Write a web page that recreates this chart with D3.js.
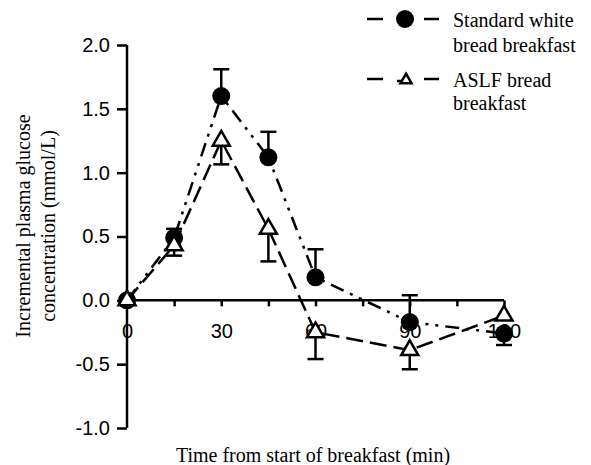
<!DOCTYPE html>
<html><head><meta charset="utf-8">
<script src="https://cdn.jsdelivr.net/npm/d3@7"></script>
<style>body{margin:0;background:#fff}svg{display:block}</style>
</head><body>
<svg id="c" width="591" height="465"></svg>
<script>
const times = [0, 15, 30, 45, 60, 90, 120];
const whiteMean = [0, 0.49, 1.60, 1.12, 0.18, -0.17, -0.26];
const whiteErrEnd = [null, 0.56, 1.81, 1.32, 0.40, 0.04, -0.35];
const aslfMean = [0, 0.43, 1.25, 0.56, -0.25, -0.39, -0.12];
const aslfErrEnd = [null, 0.35, 1.065, 0.305, -0.46, -0.54, null];
const yTicks = [-1.0, -0.5, 0.0, 0.5, 1.0, 1.5, 2.0];
const xTicks = [0, 15, 30, 45, 60, 75, 90, 105, 120];
const xTickLabels = [0, 30, 60, 90, 120];
const legendLabels = [["Standard white", "bread breakfast"], ["ASLF bread", "breakfast"]];

const svg = d3.select("#c");
const x = d3.scaleLinear().domain([0, 120]).range([127, 504]);
const y = d3.scaleLinear().domain([-1, 2]).range([428, 45]);
const serif = "'Liberation Serif','Times New Roman',serif";
const sans = "'Liberation Sans',Arial,sans-serif";
const SW = 2.5;
const fmt = d => d3.format(".1f")(d).replace("\u2212", "-");

// Y axis
const yAxis = svg.append("g").attr("transform", `translate(${x(0)},0)`)
  .call(d3.axisLeft(y).tickValues(yTicks).tickFormat(fmt).tickSize(10).tickPadding(7));
yAxis.select(".domain").attr("stroke-width", SW).attr("d", `M0,${y(-1)}V${y(2)}`);
yAxis.selectAll(".tick line").attr("stroke-width", SW);
yAxis.selectAll("text").attr("font-family", sans).attr("font-size", 20).attr("fill", "#000");

// X axis at y=0
const xAxis = svg.append("g").attr("transform", `translate(0,${y(0)})`)
  .call(d3.axisBottom(x).tickValues(xTicks).tickSize(6)
    .tickFormat(d => xTickLabels.includes(d) ? d : ""));
xAxis.select(".domain").attr("stroke-width", SW).attr("d", `M${x(0)},0H${x(120)}`);
xAxis.selectAll(".tick line").attr("stroke-width", SW);
xAxis.selectAll("text").attr("font-family", sans).attr("font-size", 20).attr("fill", "#000")
  .attr("dy", null).attr("y", 38);

// Axis titles
svg.append("text").attr("x", 313).attr("y", 462).attr("text-anchor", "middle")
  .attr("font-family", serif).attr("font-size", 20).text("Time from start of breakfast (min)");
const yl = svg.append("g").attr("transform", "translate(0,226) rotate(-90)");
yl.append("text").attr("x", 0).attr("y", 30).attr("text-anchor", "middle")
  .attr("font-family", serif).attr("font-size", 20).text("Incremental plasma glucose");
yl.append("text").attr("x", 0).attr("y", 55).attr("text-anchor", "middle")
  .attr("font-family", serif).attr("font-size", 20).text("concentration (mmol/L)");

const line = d3.line().x((d, i) => x(times[i])).y(d => y(d));
const dashWhite = "14,7,3,7,3,7";
const dashAslf = "17,7";

// Lines
svg.append("path").datum(whiteMean).attr("d", line).attr("fill", "none")
  .attr("stroke", "#000").attr("stroke-width", SW).attr("stroke-dasharray", dashWhite);
svg.append("path").datum(aslfMean).attr("d", line).attr("fill", "none")
  .attr("stroke", "#000").attr("stroke-width", SW).attr("stroke-dasharray", dashAslf);

// Error bars
function errBars(means, ends) {
  const g = svg.append("g").attr("stroke", "#000").attr("stroke-width", SW);
  means.forEach((m, i) => {
    const e = ends[i];
    if (e === null) return;
    g.append("line").attr("x1", x(times[i])).attr("x2", x(times[i])).attr("y1", y(m)).attr("y2", y(e));
    g.append("line").attr("x1", x(times[i]) - 8).attr("x2", x(times[i]) + 8).attr("y1", y(e)).attr("y2", y(e));
  });
}
errBars(whiteMean, whiteErrEnd);
errBars(aslfMean, aslfErrEnd);

function triPath(s) {
  const h = s * Math.sqrt(3) / 2;
  return `M0,${-2 * h / 3}L${s / 2},${h / 3}L${-s / 2},${h / 3}Z`;
}

// Markers
svg.append("g").selectAll("circle").data(whiteMean).join("circle")
  .attr("cx", (d, i) => x(times[i])).attr("cy", d => y(d)).attr("r", 9).attr("fill", "#000");
svg.append("g").selectAll("path").data(aslfMean).join("path")
  .attr("transform", (d, i) => `translate(${x(times[i])},${y(d)})`)
  .attr("d", triPath(17)).attr("fill", "#fff").attr("stroke", "#000").attr("stroke-width", SW)
  .attr("stroke-linejoin", "miter");

// Legend
const legRows = [19, 79];
legRows.forEach((ly, k) => {
  const g = svg.append("g");
  g.append("line").attr("x1", 367).attr("x2", 383).attr("y1", ly).attr("y2", ly)
    .attr("stroke", "#000").attr("stroke-width", SW);
  g.append("line").attr("x1", 424).attr("x2", 439).attr("y1", ly).attr("y2", ly)
    .attr("stroke", "#000").attr("stroke-width", SW);
  if (k === 0) {
    g.append("circle").attr("cx", 405).attr("cy", ly).attr("r", 9).attr("fill", "#000");
  } else {
    g.append("line").attr("x1", 397).attr("x2", 402).attr("y1", ly + 2).attr("y2", ly + 2)
      .attr("stroke", "#000").attr("stroke-width", SW);
    g.append("path").attr("transform", `translate(406,${ly + 1})`).attr("d", triPath(11))
      .attr("fill", "#fff").attr("stroke", "#000").attr("stroke-width", SW);
  }
  const baselines = k === 0 ? [27, 52] : [87, 110];
  legendLabels[k].forEach((t, j) => {
    g.append("text").attr("x", 453).attr("y", baselines[j]).attr("font-family", serif)
      .attr("font-size", 20).text(t);
  });
});
</script>
</body></html>
